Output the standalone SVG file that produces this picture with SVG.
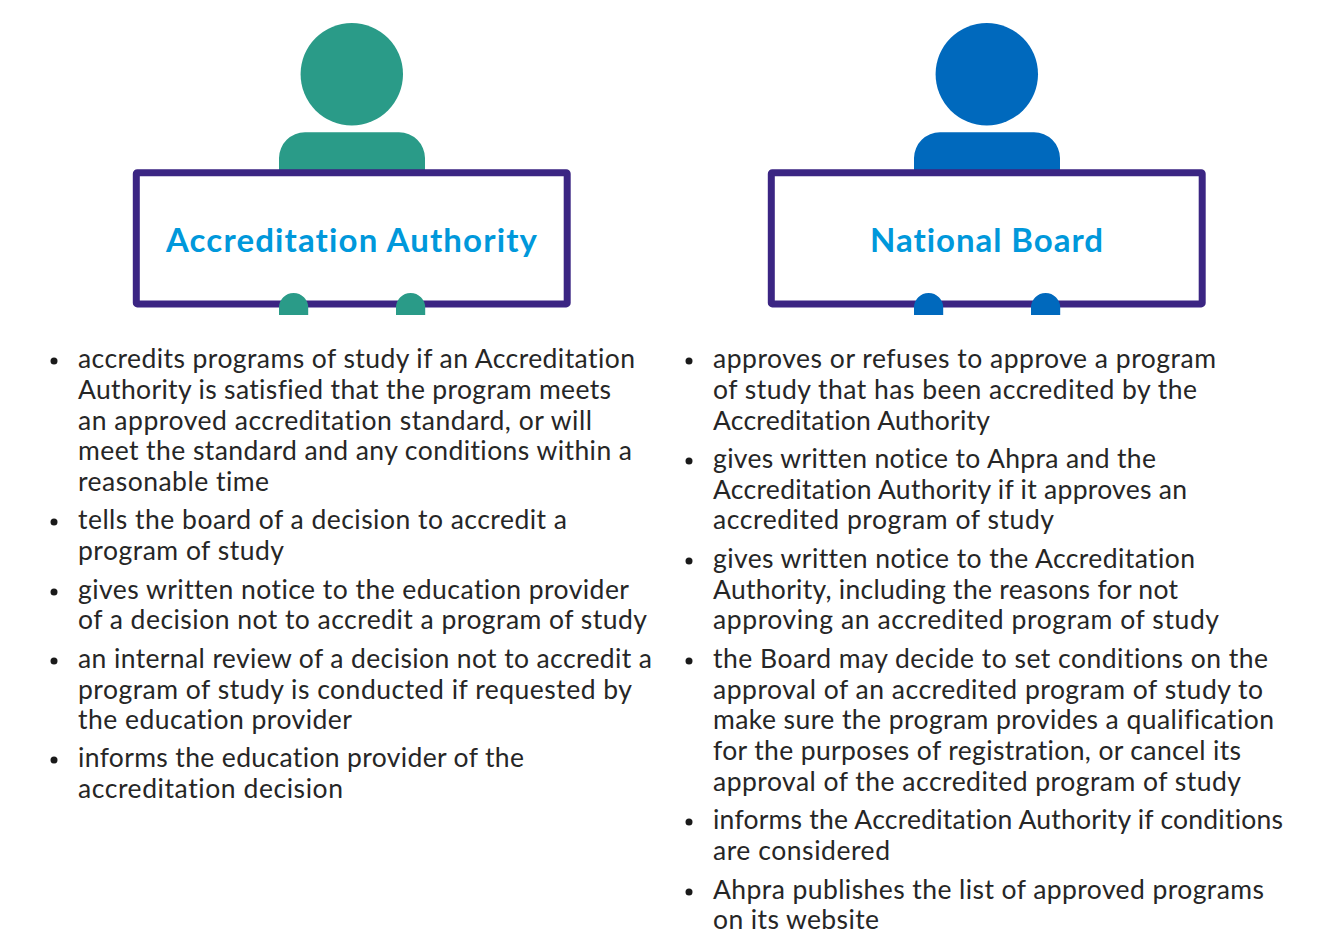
<svg xmlns="http://www.w3.org/2000/svg" width="1339" height="938" viewBox="0 0 1339 938">
<style>
text{font-family:"Lato","Noto Sans","Liberation Sans",sans-serif;font-variant-ligatures:none}
.b{font-size:26.5px;fill:#262626}
.t{font-size:33px;font-weight:700;fill:#0098db}
.box{fill:#fff;stroke:#3b2583;stroke-width:7;stroke-linejoin:round}
.g{fill:#2a9b88}.n{fill:#0069bd}
.d{fill:#1a1a1a}
</style>
<rect width="1339" height="938" fill="#fff"/>
<g id="node-accreditation-authority">
<circle class="g" cx="351.800" cy="74.200" r="51.200"/>
<path class="g" d="M279 175V158A26 26 0 0 1 305 132.300H399A26 26 0 0 1 425 158V175Z"/>
<rect class="box" x="136.300" y="172.700" width="430.900" height="131.200" rx="1"/>
<path class="g" d="M279 315V307.600A14.600 14.600 0 0 1 308.200 307.600V315ZM396 315V307.600A14.600 14.600 0 0 1 425.200 307.600V315Z"/>
<text class="t" x="166" y="252" textLength="371">Accreditation Authority</text>
</g>
<g id="node-national-board">
<circle class="n" cx="986.800" cy="74.200" r="51.200"/>
<path class="n" d="M914 175V158A26 26 0 0 1 940 132.300H1034A26 26 0 0 1 1060 158V175Z"/>
<rect class="box" x="771.300" y="172.700" width="430.900" height="131.200" rx="1"/>
<path class="n" d="M914 315V307.600A14.600 14.600 0 0 1 943.200 307.600V315ZM1031 315V307.600A14.600 14.600 0 0 1 1060.200 307.600V315Z"/>
<text class="t" x="870" y="252" textLength="233">National Board</text>
</g>
<g id="list-left">
<circle class="d" cx="54" cy="361" r="3.500"/><circle class="d" cx="54" cy="522" r="3.500"/><circle class="d" cx="54" cy="592" r="3.500"/><circle class="d" cx="54" cy="661" r="3.500"/><circle class="d" cx="54" cy="760" r="3.500"/>
<text class="b" x="78" y="368" textLength="557">accredits programs of study if an Accreditation</text>
<text class="b" x="78" y="399" textLength="533">Authority is satisfied that the program meets</text>
<text class="b" x="78" y="430" textLength="514">an approved accreditation standard, or will</text>
<text class="b" x="78" y="460" textLength="554">meet the standard and any conditions within a</text>
<text class="b" x="78" y="491" textLength="191">reasonable time</text>
<text class="b" x="78" y="529" textLength="489">tells the board of a decision to accredit a</text>
<text class="b" x="78" y="560" textLength="206">program of study</text>
<text class="b" x="78" y="599" textLength="551">gives written notice to the education provider</text>
<text class="b" x="78" y="629" textLength="569">of a decision not to accredit a program of study</text>
<text class="b" x="78" y="668" textLength="574">an internal review of a decision not to accredit a</text>
<text class="b" x="78" y="699" textLength="554">program of study is conducted if requested by</text>
<text class="b" x="78" y="729" textLength="274">the education provider</text>
<text class="b" x="78" y="767" textLength="446">informs the education provider of the</text>
<text class="b" x="78" y="798" textLength="265">accreditation decision</text>
</g>
<g id="list-right">
<circle class="d" cx="689" cy="361" r="3.500"/><circle class="d" cx="689" cy="461" r="3.500"/><circle class="d" cx="689" cy="561" r="3.500"/><circle class="d" cx="689" cy="661" r="3.500"/><circle class="d" cx="689" cy="822" r="3.500"/><circle class="d" cx="689" cy="892" r="3.500"/>
<text class="b" x="713" y="368" textLength="503">approves or refuses to approve a program</text>
<text class="b" x="713" y="399" textLength="484">of study that has been accredited by the</text>
<text class="b" x="713" y="430" textLength="277">Accreditation Authority</text>
<text class="b" x="713" y="468" textLength="443">gives written notice to Ahpra and the</text>
<text class="b" x="713" y="499" textLength="474">Accreditation Authority if it approves an</text>
<text class="b" x="713" y="529" textLength="341">accredited program of study</text>
<text class="b" x="713" y="568" textLength="482">gives written notice to the Accreditation</text>
<text class="b" x="713" y="599" textLength="465">Authority, including the reasons for not</text>
<text class="b" x="713" y="629" textLength="506">approving an accredited program of study</text>
<text class="b" x="713" y="668" textLength="555">the Board may decide to set conditions on the</text>
<text class="b" x="713" y="699" textLength="550">approval of an accredited program of study to</text>
<text class="b" x="713" y="729" textLength="561">make sure the program provides a qualification</text>
<text class="b" x="713" y="760" textLength="528">for the purposes of registration, or cancel its</text>
<text class="b" x="713" y="791" textLength="528">approval of the accredited program of study</text>
<text class="b" x="713" y="829" textLength="570">informs the Accreditation Authority if conditions</text>
<text class="b" x="713" y="860" textLength="177">are considered</text>
<text class="b" x="713" y="899" textLength="551">Ahpra publishes the list of approved programs</text>
<text class="b" x="713" y="929" textLength="166">on its website</text>
</g>
</svg>
